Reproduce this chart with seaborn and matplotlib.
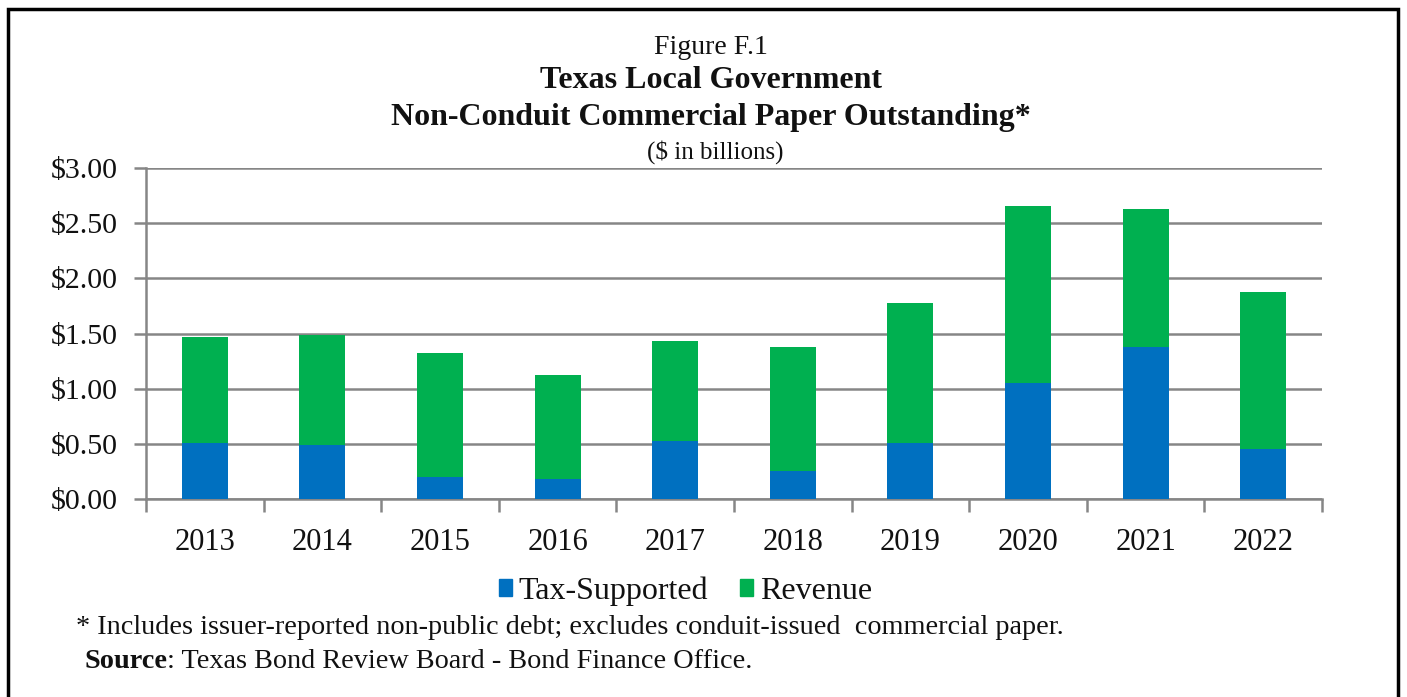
import numpy as np
import pandas as pd
import matplotlib
matplotlib.use("Agg")
import matplotlib.pyplot as plt
import matplotlib.patches as mpatches
from matplotlib.ticker import FixedLocator, FuncFormatter
import seaborn as sns

# Commercial paper outstanding, $ billions
years = ["2013", "2014", "2015", "2016", "2017", "2018", "2019", "2020", "2021", "2022"]
tax_supported = [0.51, 0.49, 0.20, 0.18, 0.53, 0.25, 0.51, 1.05, 1.38, 0.45]
revenue = [0.96, 1.00, 1.12, 0.94, 0.90, 1.13, 1.27, 1.61, 1.25, 1.43]

BLUE = "#0070C0"
GREEN = "#00B050"
GRID = "#868686"
INK = "#111111"

sns.set_theme(style="white")
plt.rcParams["font.family"] = ["Liberation Serif", "DejaVu Serif"]
plt.rcParams["text.color"] = INK

df = pd.DataFrame({"year": years, "tax": tax_supported, "rev": revenue})
df["total"] = df["tax"] + df["rev"]

fig = plt.figure(figsize=(14.07, 6.97), dpi=100)
ax = fig.add_axes([146 / 1407, 1 - 499 / 697, (1322 - 146) / 1407, (499 - 168) / 697])

# Stacked bars: total (revenue on top) then tax-supported overlaid at the base
bar_kw = dict(width=0.39, saturation=1, linewidth=0, edgecolor="none", ax=ax)
sns.barplot(data=df, x="year", y="total", color=GREEN, zorder=3, **bar_kw)
sns.barplot(data=df, x="year", y="tax", color=BLUE, zorder=4, **bar_kw)

ax.set_ylim(0, 3.0)
ax.set_xlim(-0.5, len(years) - 0.5)
ax.set_xlabel("")
ax.set_ylabel("")

ax.yaxis.set_major_locator(FixedLocator(np.arange(0, 3.01, 0.5)))
ax.yaxis.set_major_formatter(FuncFormatter(lambda v, p: f"${v:.2f}"))
ax.grid(axis="y", color=GRID, linewidth=1.8, zorder=1)
ax.set_axisbelow(True)

for s in ["top", "right"]:
    ax.spines[s].set_visible(False)
for s in ["left", "bottom"]:
    ax.spines[s].set_color(GRID)
    ax.spines[s].set_linewidth(1.8)

ax.tick_params(axis="y", which="major", length=9, width=1.8, color=GRID,
               labelsize=21.5, pad=11, left=True, labelcolor=INK)
ax.set_xticks(np.arange(len(years)))
ax.set_xticks(np.arange(-0.5, len(years), 1.0), minor=True)
ax.tick_params(axis="x", which="major", length=0, labelsize=22, pad=21,
               labelcolor=INK)
ax.tick_params(axis="x", which="minor", length=9, width=1.8, color=GRID,
               bottom=True, direction="out")

# Title block
cx = 711 / 1407
fig.text(cx, 1 - 47 / 697, "Figure F.1", ha="center", va="center", fontsize=20)
fig.text(cx, 1 - 80 / 697, "Texas Local Government", ha="center", va="center",
         fontsize=23, fontweight="bold")
fig.text(cx, 1 - 117 / 697, "Non-Conduit Commercial Paper Outstanding*",
         ha="center", va="center", fontsize=23, fontweight="bold")
fig.text(cx + 4 / 1407, 1 - 152 / 697, "($ in billions)", ha="center", va="center",
         fontsize=18)

# Legend
handles = [mpatches.Patch(color=BLUE, label="Tax-Supported"),
           mpatches.Patch(color=GREEN, label="Revenue")]
fig.legend(handles=handles, loc="center", bbox_to_anchor=(0.487, 1 - 591 / 697),
           ncol=2, frameon=False, fontsize=23, handlelength=0.42, handleheight=0.42,
           handletextpad=0.2, columnspacing=1.0)

# Footnotes
fig.text(76 / 1407, 1 - 628 / 697,
         "* Includes issuer-reported non-public debt; excludes conduit-issued  commercial paper.",
         ha="left", va="center", fontsize=20.3)
src = fig.text(84 / 1407, 1 - 661 / 697, "Source", ha="left", va="center",
               fontsize=20.3, fontweight="bold")
ax.annotate(": Texas Bond Review Board - Bond Finance Office.", xy=(1, 0.5),
            xycoords=src, ha="left", va="center", fontsize=20.3,
            annotation_clip=False, color=INK)

# Outer frame
fig.patches.append(mpatches.Rectangle((8 / 1407, -0.05), (1398 - 8) / 1407, 1.05 - 9 / 697,
                                      transform=fig.transFigure, fill=False,
                                      edgecolor="black", linewidth=2.5, zorder=10))

fig.savefig("out.png", dpi=100)
